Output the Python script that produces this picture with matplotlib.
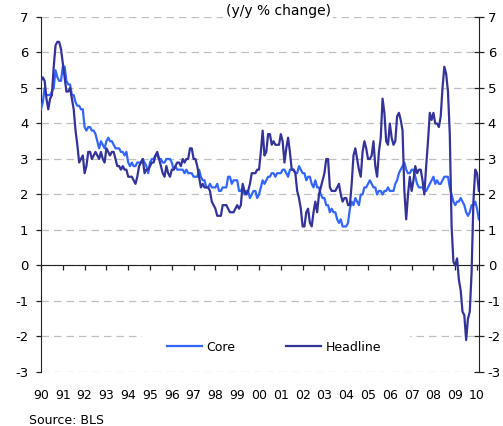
import matplotlib
matplotlib.use("Agg")
import matplotlib.pyplot as plt
from matplotlib.patches import Rectangle
import numpy as np

plt.rcParams['font.family'] = ['DejaVu Sans']
plt.rcParams['axes.unicode_minus'] = False

# ---- data: monthly y/y % change, Jan 1990 - Feb 2010 ----
start_year = 1990
headline = [
    5.2, 5.3, 5.2, 4.7, 4.4, 4.7, 4.8, 5.6, 6.2, 6.3, 6.3, 6.1,   # 1990
    5.7, 5.3, 4.9, 4.9, 5.0, 4.7, 4.4, 3.8, 3.4, 2.9, 3.0, 3.1,   # 1991
    2.6, 2.8, 3.2, 3.2, 3.0, 3.1, 3.2, 3.1, 3.0, 3.2, 3.0, 2.9,   # 1992
    3.3, 3.2, 3.1, 3.2, 3.2, 3.0, 2.8, 2.8, 2.7, 2.8, 2.7, 2.7,   # 1993
    2.5, 2.5, 2.5, 2.4, 2.3, 2.5, 2.8, 2.9, 3.0, 2.6, 2.7, 2.7,   # 1994
    2.8, 2.9, 2.9, 3.1, 3.2, 3.0, 2.8, 2.6, 2.5, 2.8, 2.6, 2.5,   # 1995
    2.7, 2.7, 2.8, 2.9, 2.9, 2.8, 3.0, 2.9, 3.0, 3.0, 3.3, 3.3,   # 1996
    3.0, 3.0, 2.8, 2.5, 2.2, 2.3, 2.2, 2.2, 2.2, 2.1, 1.8, 1.7,   # 1997
    1.6, 1.4, 1.4, 1.4, 1.7, 1.7, 1.7, 1.6, 1.5, 1.5, 1.5, 1.6,   # 1998
    1.7, 1.6, 1.7, 2.3, 2.1, 2.0, 2.1, 2.3, 2.6, 2.6, 2.6, 2.7,   # 1999
    2.7, 3.2, 3.8, 3.1, 3.2, 3.7, 3.7, 3.4, 3.5, 3.4, 3.4, 3.4,   # 2000
    3.7, 3.5, 2.9, 3.3, 3.6, 3.2, 2.7, 2.7, 2.6, 2.1, 1.9, 1.6,   # 2001
    1.1, 1.1, 1.5, 1.6, 1.2, 1.1, 1.5, 1.8, 1.5, 2.0, 2.2, 2.4,   # 2002
    2.6, 3.0, 3.0, 2.2, 2.1, 2.1, 2.1, 2.2, 2.3, 2.0, 1.8, 1.9,   # 2003
    1.9, 1.7, 1.7, 2.3, 3.1, 3.3, 3.0, 2.7, 2.5, 3.2, 3.5, 3.3,   # 2004
    3.0, 3.0, 3.1, 3.5, 2.8, 2.5, 3.2, 3.6, 4.7, 4.3, 3.5, 3.4,   # 2005
    4.0, 3.6, 3.4, 3.5, 4.2, 4.3, 4.1, 3.8, 2.1, 1.3, 2.0, 2.5,   # 2006
    2.1, 2.4, 2.8, 2.6, 2.7, 2.7, 2.4, 2.0, 2.8, 3.5, 4.3, 4.1,   # 2007
    4.3, 4.0, 4.0, 3.9, 4.2, 5.0, 5.6, 5.4, 4.9, 3.7, 1.1, 0.1,   # 2008
    0.0, 0.2, -0.4, -0.7, -1.3, -1.4, -2.1, -1.5, -1.3, -0.2, 1.8, 2.7,  # 2009
    2.6, 2.1,                                                     # 2010
]
core = [
    4.4, 4.6, 5.0, 4.8, 4.8, 4.8, 4.9, 5.0, 5.5, 5.3, 5.2, 5.2,   # 1990
    5.6, 5.6, 5.2, 5.1, 5.1, 4.8, 4.8, 4.6, 4.5, 4.5, 4.4, 4.4,   # 1991
    3.9, 3.8, 3.9, 3.9, 3.8, 3.8, 3.7, 3.5, 3.3, 3.5, 3.4, 3.3,   # 1992
    3.5, 3.6, 3.5, 3.5, 3.4, 3.3, 3.3, 3.3, 3.2, 3.2, 3.1, 3.2,   # 1993
    2.9, 2.8, 2.9, 2.8, 2.8, 2.9, 2.9, 2.9, 3.0, 2.9, 2.8, 2.6,   # 1994
    2.9, 3.0, 3.0, 3.1, 3.1, 3.0, 3.0, 2.9, 2.9, 3.0, 3.0, 3.0,   # 1995
    2.9, 2.7, 2.8, 2.7, 2.7, 2.7, 2.7, 2.6, 2.7, 2.6, 2.6, 2.6,   # 1996
    2.5, 2.5, 2.5, 2.7, 2.5, 2.4, 2.4, 2.2, 2.2, 2.3, 2.2, 2.2,   # 1997
    2.2, 2.3, 2.1, 2.1, 2.2, 2.2, 2.2, 2.5, 2.5, 2.3, 2.4, 2.4,   # 1998
    2.4, 2.1, 2.1, 2.2, 2.0, 2.1, 2.1, 1.9, 2.0, 2.1, 2.1, 1.9,   # 1999
    2.0, 2.2, 2.4, 2.3, 2.4, 2.5, 2.5, 2.6, 2.6, 2.5, 2.6, 2.6,   # 2000
    2.6, 2.7, 2.7, 2.6, 2.5, 2.7, 2.7, 2.7, 2.6, 2.6, 2.8, 2.7,   # 2001
    2.6, 2.6, 2.4, 2.5, 2.5, 2.3, 2.2, 2.4, 2.2, 2.2, 2.0, 1.9,   # 2002
    1.9, 1.7, 1.7, 1.5, 1.6, 1.5, 1.5, 1.3, 1.2, 1.3, 1.1, 1.1,   # 2003
    1.1, 1.2, 1.6, 1.8, 1.7, 1.9, 1.8, 1.7, 2.0, 2.0, 2.2, 2.2,   # 2004
    2.3, 2.4, 2.3, 2.2, 2.2, 2.0, 2.1, 2.1, 2.0, 2.1, 2.1, 2.2,   # 2005
    2.1, 2.1, 2.1, 2.3, 2.4, 2.6, 2.7, 2.8, 2.9, 2.7, 2.6, 2.6,   # 2006
    2.7, 2.7, 2.5, 2.3, 2.2, 2.2, 2.2, 2.1, 2.1, 2.2, 2.3, 2.4,   # 2007
    2.5, 2.3, 2.4, 2.3, 2.3, 2.4, 2.5, 2.5, 2.5, 2.2, 2.0, 1.8,   # 2008
    1.7, 1.8, 1.8, 1.9, 1.8, 1.7, 1.5, 1.4, 1.5, 1.7, 1.7, 1.8,   # 2009
    1.6, 1.3,                                                     # 2010
]
tick_years = list(range(1990, 2011))
tick_labels = [f"{y % 100:02d}" for y in tick_years]
y_ticks = list(range(-3, 8))

title = "(y/y % change)"
source = "Source: BLS"
series_names = ["Core", "Headline"]
core_color = "#3366FF"
head_color = "#333399"

x = start_year + np.arange(len(headline)) / 12.0

fig = plt.figure(figsize=(5.03, 4.26), dpi=100)
ax = fig.add_axes([41/503, 1-372/426, 438/503, 355/426])

ax.set_xlim(1990, 2010.09)
ax.set_ylim(-3, 7)

ax.plot(x, core, color=core_color, lw=1.6, label=series_names[0], zorder=3)
ax.plot(x, headline, color=head_color, lw=1.6, label=series_names[1], zorder=4)

# gridlines
ax.set_yticks(y_ticks)
ax.yaxis.grid(True, color="#C0C0C0", linestyle=(0, (6, 4)), lw=0.9)
ax.set_axisbelow(True)

# spines
ax.spines['top'].set_visible(False)
ax.spines['right'].set_visible(False)
ax.spines['bottom'].set_position(('data', 0))
ax.spines['bottom'].set_color('#222222')
ax.spines['left'].set_color('#222222')

# x ticks on zero line (no labels)
ax.set_xticks(tick_years)
ax.tick_params(axis='x', direction='out', length=3.6, width=0.9,
               color='#222222', labelbottom=False)
ax.tick_params(axis='y', direction='out', length=3.6, width=0.9,
               color='#222222', labelsize=9.5, pad=5.5)

# x labels at bottom
sec = ax.secondary_xaxis('bottom')
sec.set_xticks(tick_years)
sec.set_xticklabels(tick_labels)
sec.tick_params(length=0, labelsize=9, pad=12)
sec.spines['bottom'].set_visible(False)

# right axis
ax2 = ax.twinx()
ax2.set_ylim(-3, 7)
ax2.set_yticks(y_ticks)
for s in ['left', 'top', 'bottom']:
    ax2.spines[s].set_visible(False)
ax2.spines['right'].set_color('#222222')
ax2.tick_params(axis='y', direction='inout', length=6.5, width=0.9,
                color='#222222', labelsize=9.5, pad=3)

# white mask behind legend
ax.add_patch(Rectangle((0.2306, 0.03), 0.612, 0.09, transform=ax.transAxes,
                       facecolor='white', edgecolor='none', zorder=1))

ax.legend(loc='center', bbox_to_anchor=(0.532, 0.0704), ncol=2, frameon=False,
          fontsize=9, handlelength=2.8, handletextpad=0.32, columnspacing=4.1)

fig.text(278/503, 1-11/426, title, ha='center', va='center', fontsize=10,
         bbox=dict(facecolor='white', edgecolor='none', pad=1.5))
fig.text(29/503, 1-420/426, source, ha='left', va='center', fontsize=9)

fig.savefig("out.png", dpi=100)
